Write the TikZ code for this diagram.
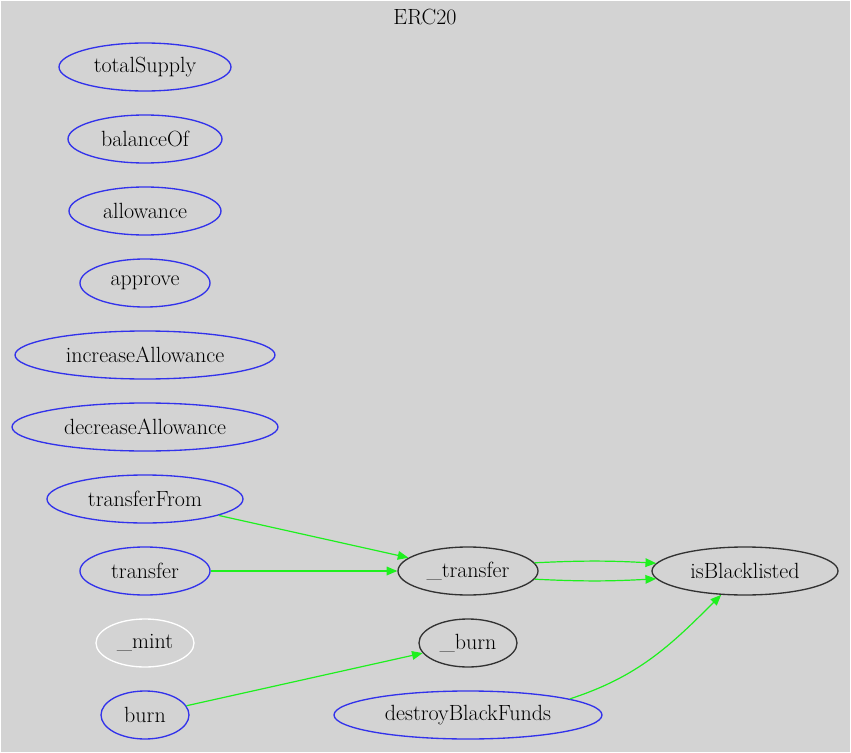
\documentclass[tikz,border=0pt]{standalone}
\usetikzlibrary{shapes.geometric,arrows.meta}
\definecolor{bggray}{RGB}{211,211,211}
\definecolor{nblue}{RGB}{50,50,235}
\definecolor{ndark}{RGB}{50,50,50}
\definecolor{egreen}{RGB}{30,240,30}
\begin{document}
\begin{tikzpicture}[x=0.75pt,y=-0.75pt,
  fn/.style={ellipse,draw=nblue,line width=1pt,inner sep=0pt,minimum height=36pt,minimum width=#1*1.5pt,
    font=\fontsize{16.5}{19}\selectfont,text=black},
  fnd/.style={fn=#1,draw=ndark},
  fnw/.style={fn=#1,draw=white},
  edge/.style={draw=egreen,line width=0.9pt,-{Triangle[length=8pt,width=6.5pt]}}]
\useasboundingbox (0,0) rectangle (851,753);
\fill[white] (0,0) rectangle (851,753);
\fill[bggray] (1.5,1.5) rectangle (849.5,751.5);
\node (title) at (425,17) {\fontsize{16.5}{19}\selectfont ERC20};
\node[fn=86] (totalSupply) at (145,67) {totalSupply};
\node[fn=77] (balanceOf) at (145,139) {balanceOf};
\node[fn=76] (allowance) at (145,211) {allowance};
\node[fn=65] (approve) at (145,283) {approve};
\node[fn=130] (increaseAllowance) at (145,355) {increaseAllowance};
\node[fn=133] (decreaseAllowance) at (145,427) {decreaseAllowance};
\node[fn=98] (transferFrom) at (145,499) {transferFrom};
\node[fn=65] (transfer) at (145,571) {transfer};
\node[fnw=49] (mint) at (145,643) {\_mint};
\node[fn=44] (burn) at (145,715) {burn};
\node[fnd=70] (itransfer) at (468,571) {\_transfer};
\node[fnd=49] (iburn) at (468,643) {\_burn};
\node[fn=134] (destroy) at (468,715) {destroyBlackFunds};
\node[fnd=93] (isBL) at (745,571) {isBlacklisted};
\draw[edge] (transferFrom) -- (itransfer);
\draw[edge] (transfer) -- (itransfer);
\draw[edge] (itransfer.7) to[bend left=3] (isBL.175);
\draw[edge] (itransfer.-7) to[bend right=3] (isBL.185);
\draw[edge] (burn) -- (iburn);
\draw[edge] (destroy.9) to[out=18,in=225] (isBL.225);
\end{tikzpicture}
\end{document}
